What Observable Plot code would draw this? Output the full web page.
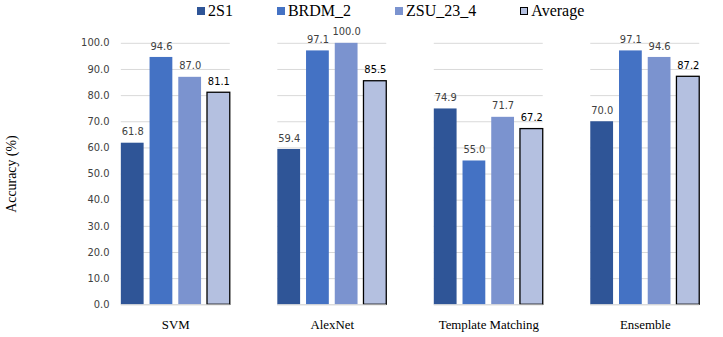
<!DOCTYPE html>
<html>
<head>
<meta charset="utf-8">
<script src="https://cdn.jsdelivr.net/npm/d3@7"></script>
<script src="https://cdn.jsdelivr.net/npm/@observablehq/plot@0.6"></script>
<style>
  html, body { margin: 0; padding: 0; background: #fff; overflow: hidden; width: 723px; height: 337px; }
  #legend { height: 25px; display: flex; align-items: flex-start; padding-left: 197px; box-sizing: border-box; color: #000; }
  #legend .item { display: flex; align-items: center; margin-right: 44px; height: 22px; }
  #legend .sw { width: 8px; height: 8px; margin-right: 3px; box-sizing: border-box; }
</style>
</head>
<body>
<div id="legend"></div>
<div id="chart"></div>
<script>
const models = ["SVM", "AlexNet", "Template Matching", "Ensemble"];
const seriesNames = ["2S1", "BRDM_2", "ZSU_23_4", "Average"];
const values2S1 = [61.8, 59.4, 74.9, 70.0];
const valuesBRDM2 = [94.6, 97.1, 55.0, 97.1];
const valuesZSU234 = [87.0, 100.0, 71.7, 94.6];
const valuesAverage = [81.1, 85.5, 67.2, 87.2];
const yTicks = [0, 10, 20, 30, 40, 50, 60, 70, 80, 90, 100];
const colors = ["#2F5597", "#4472C4", "#7B93CF", "#B4C0E0"];
const SERIF = "Liberation Serif";

const seriesValues = [values2S1, valuesBRDM2, valuesZSU234, valuesAverage];
const data = [];
models.forEach((m, i) => {
  seriesNames.forEach((s, j) => {
    data.push({model: m, series: s, value: seriesValues[j][i], avg: s === "Average"});
  });
});

const legend = document.getElementById("legend");
seriesNames.forEach((s, j) => {
  const it = document.createElement("div");
  it.className = "item";
  const sw = document.createElement("div");
  sw.className = "sw";
  sw.style.background = colors[j];
  if (s === "Average") sw.style.border = "1px solid #000";
  const t = document.createElement("span");
  t.setAttribute("style", "font-family: 'Liberation Serif'; font-size: 16px;");
  t.textContent = s;
  it.appendChild(sw); it.appendChild(t);
  legend.appendChild(it);
});

const chart = Plot.plot({
  width: 730,
  height: 312,
  marginLeft: 97,
  marginRight: 0,
  marginTop: 18,
  marginBottom: 30,
  style: {fontFamily: "DejaVu Sans", fontSize: "10px", color: "#404040", background: "#fff"},
  fx: {domain: models, paddingInner: 0.305, paddingOuter: 0.148, label: null, axis: null},
  x: {domain: seriesNames, paddingInner: 0.21, paddingOuter: 0, axis: null},
  y: {domain: [0, 100], ticks: yTicks, label: null},
  color: {domain: seriesNames, range: colors},
  marks: [
    Plot.gridY(yTicks, {stroke: "#d9d9d9", strokeOpacity: 1, strokeWidth: 1}),
    Plot.axisY(yTicks, {tickSize: 0, tickPadding: 12, tickFormat: d => d.toFixed(1),
      fontFamily: "DejaVu Sans", fontSize: 10, fill: "#404040",
      label: "Accuracy (%)", labelAnchor: "center", labelArrow: "none", labelOffset: 116}),
    Plot.axisFx({anchor: "bottom", tickSize: 0, tickPadding: 15, fontSize: 13, fill: "#000", label: null}),
    Plot.barY(data, {fx: "model", x: "series", y: "value", fill: "series",
      stroke: d => d.avg ? "#000" : "none", strokeWidth: 1.3}),
    Plot.text(data, {fx: "model", x: "series", y: "value", text: d => d.value.toFixed(1),
      lineAnchor: "bottom", dy: -8, fontFamily: "DejaVu Sans", fontSize: 10,
      fontWeight: d => d.avg ? "bold" : "normal", fill: d => d.avg ? "#000" : "#404040"}),
    Plot.ruleY([0], {stroke: "#d9d9d9"})
  ]
});
document.getElementById("chart").appendChild(chart);
chart.querySelectorAll("g[aria-label='y-axis label'] text").forEach(t => {
  t.setAttribute("font-family", SERIF);
  t.setAttribute("font-size", "14");
  t.setAttribute("fill", "#000");
});
chart.querySelectorAll("g[aria-label='fx-axis tick label'] text").forEach(t => {
  t.setAttribute("font-family", SERIF);
  t.setAttribute("font-size", "13");
});
</script>
</body>
</html>
